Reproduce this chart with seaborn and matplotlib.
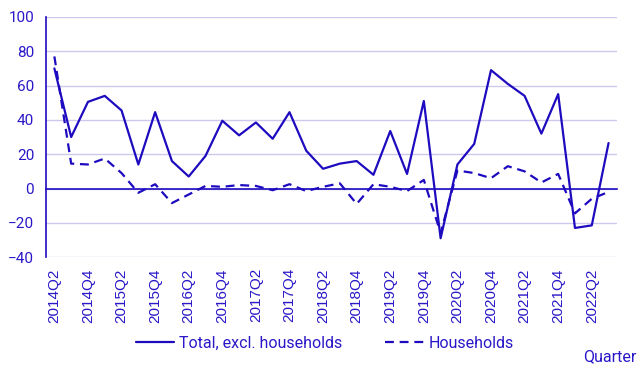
import numpy as np
import pandas as pd
import matplotlib
matplotlib.use("Agg")
import matplotlib.pyplot as plt
import seaborn as sns

# quarters 2014Q2 .. 2022Q3
quarters = [f"{y}Q{q}" for y in range(2014, 2023) for q in range(1, 5)][1:35]

total_excl_households = [70, 30, 50.5, 54, 45.5, 14, 44.5, 16, 7, 19,
                         39.5, 31, 38.5, 29, 44.5, 22, 11.5, 14.5, 16, 8,
                         33.5, 8.5, 51, -29, 14, 26, 69, 61, 54, 32,
                         55, -23, -21.5, 26.5]
households = [77, 14.5, 14, 17.5, 9, -2.5, 2.5, -8.5, -3.5, 1.5,
              1, 2, 1.5, -1, 2.5, -1.5, 1, 3, -9, 2.5,
              1, -1.5, 5, -26, 10.5, 9, 6, 13, 10, 3.5,
              8.5, -14.5, -6, -2]

series_names = ["Total, excl. households", "Households"]

BLUE = "#1e0bbf"
TEXT = "#2a18c8"
GRID = "#cdc8ee"

df = pd.DataFrame({
    "pos": list(range(len(quarters))) * 2,
    "value": total_excl_households + households,
    "series": [series_names[0]] * len(quarters) + [series_names[1]] * len(quarters),
})

sns.set_style("white")
plt.rcParams["font.family"] = ["Roboto", "DejaVu Sans"]

fig = plt.figure(figsize=(6.43, 3.77), dpi=100)
ax = fig.add_axes([0.0715, 0.318, 0.888, 0.637])

sns.lineplot(data=df, x="pos", y="value", style="series", color=BLUE,
             dashes={series_names[0]: "", series_names[1]: (4, 2.6)},
             linewidth=1.6, ax=ax, legend=False)

n = len(quarters)
ax.set_xlim(-0.5, n - 0.5)
ax.set_ylim(-40, 100)
ax.set_yticks(range(-40, 101, 20))
ax.yaxis.grid(True, color=GRID, linewidth=1)
ax.set_axisbelow(True)

for s in ["top", "right"]:
    ax.spines[s].set_visible(False)
ax.spines["left"].set_color(BLUE)
ax.spines["left"].set_linewidth(1.2)
ax.spines["bottom"].set_position(("data", 0))
ax.spines["bottom"].set_color(BLUE)
ax.spines["bottom"].set_linewidth(1.2)

ax.tick_params(axis="y", colors=BLUE, labelcolor=TEXT, labelsize=11,
               length=5, width=1.2, direction="out")
ax.set_xticks(np.arange(0.5, n - 0.5, 1))
ax.tick_params(axis="x", colors=BLUE, length=5, width=1.2, labelbottom=False)
ax.set_xlabel("")
ax.set_ylabel("")

sec = ax.secondary_xaxis(0)
sec.set_xticks(range(0, n, 2))
sec.set_xticklabels(quarters[::2], rotation=90, family=["Liberation Sans", "DejaVu Sans"])
sec.tick_params(length=0, labelsize=11, labelcolor=TEXT, pad=8)
sec.spines["bottom"].set_visible(False)

handles = [plt.Line2D([], [], color=BLUE, linewidth=1.6),
           plt.Line2D([], [], color=BLUE, linewidth=1.6, dashes=(4, 2.6))]
leg = fig.legend(handles, series_names, loc="center", bbox_to_anchor=(0.505, 0.09),
                 ncol=2, frameon=False, fontsize=11.5, handlelength=2.4,
                 handletextpad=0.3, columnspacing=2.7)
for t in leg.get_texts():
    t.set_color(TEXT)

fig.text(0.99, 0.055, "Quarter", ha="right", va="center", color=TEXT, fontsize=11.5)

fig.savefig("out.png", dpi=100)
